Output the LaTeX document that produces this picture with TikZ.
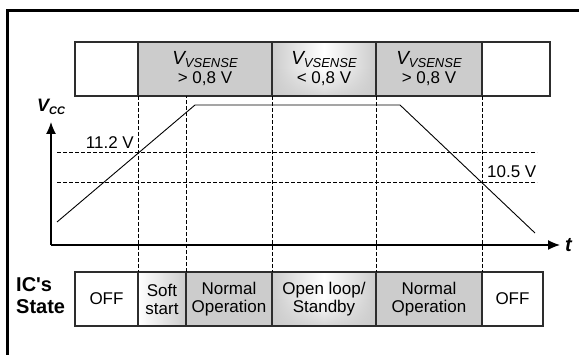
\documentclass[tikz,border=0pt]{standalone}
\usepackage{fontspec}
\setmainfont{Liberation Sans}
\usetikzlibrary{arrows.meta, positioning, fadings, backgrounds}
\definecolor{cellgray}{RGB}{204, 204, 204}
\definecolor{edgegray}{RGB}{45, 45, 45}
\newcommand{\vsense}{{\fontsize{19}{19}\selectfont\itshape V}\raisebox{-2.5pt}{\fontsize{13}{13}\selectfont\itshape VSENSE}}

\begin{document}
\begin{tikzpicture}[x=1pt, y=-1pt, font=\fontsize{17}{18}\selectfont,
    cell/.style={draw=edgegray, line width=1.2pt, minimum height=54pt, inner sep=0pt, outer sep=0pt, anchor=north west, align=center},
    guide/.style={dash pattern=on 4pt off 2pt, line width=1pt},
    axis/.style={line width=1.3pt, -{Latex[length=12pt, width=10pt]}}
  ]
    \useasboundingbox (0,0) rectangle (579,355);
    \clip (0,0) rectangle (579,355);

    % Rahmen
    \draw[line width=2.4pt] (7.3,400) -- (7.3,10.7) -- (650,10.7);

    % V_VSENSE Zeile
    \node[cell, minimum width=63pt] (vs1) at (75,42) {};
    \node[cell, minimum width=134pt, fill=cellgray, right=0pt of vs1] (vs2) {\vsense\\[1pt]> 0,8 V};
    \node[cell, minimum width=104pt, right=0pt of vs2] (vs3) {\vsense\\[1pt]< 0,8 V};
    \node[cell, minimum width=106pt, fill=cellgray, right=0pt of vs3] (vs4) {\vsense\\[1pt]> 0,8 V};
    \node[cell, minimum width=68pt, right=0pt of vs4] (vs5) {};

    % Zustaende
    \node[cell, minimum width=63pt] (st1) at (75,272) {OFF};
    \node[cell, minimum width=48pt, right=0pt of st1] (st2) {Soft\\start};
    \node[cell, minimum width=86pt, fill=cellgray, right=0pt of st2] (st3) {Normal\\Operation};
    \node[cell, minimum width=104pt, right=0pt of st3] (st4) {Open loop/\\Standby};
    \node[cell, minimum width=106pt, fill=cellgray, right=0pt of st4] (st5) {Normal\\Operation};
    \node[cell, minimum width=61pt, right=0pt of st5] (st6) {OFF};

    \node[anchor=west, inner sep=0pt, align=left, font=\fontsize{20}{22}\selectfont\bfseries] (state) at (16,296) {IC\textquotesingle s\\State};

    % Verlaeufe
    \begin{scope}[on background layer]
        \shade[left color=cellgray, right color=cellgray, middle color=white] (vs3.north west) rectangle (vs3.south east);
        \fill[cellgray, path fading=north, fill opacity=0.8] (vs3.west) rectangle (vs3.south east);
        \shade[left color=cellgray, right color=cellgray, middle color=white] (st4.north west) rectangle (st4.south east);
        \fill[cellgray, path fading=north, fill opacity=0.8] (st4.west) rectangle (st4.south east);
        \shade[left color=white, right color=cellgray] (st2.north west) rectangle (st2.south east);
    \end{scope}

    % Hilfslinien
    \draw[guide] (vs2.south west) -- (st2.north west);
    \draw[guide] (st3.north west) -- (st3.north west |- vs2.south);
    \draw[guide] (vs3.south west) -- (st4.north west);
    \draw[guide] (vs4.south west) -- (st5.north west);
    \draw[guide] (vs5.south west) -- (st6.north west);

    % Achsen
    \coordinate (origin) at (51,245);
    \coordinate (vtop) at (51,122);
    \coordinate (tend) at (560,245);
    \draw[axis] (origin) -- (vtop);
    \draw[axis] (origin) -- (tend);
    \node[anchor=base west, inner sep=0pt, font=\fontsize{18}{18}\selectfont\bfseries\itshape] (vcc) at (37,112) {V\raisebox{-3pt}{\fontsize{11}{11}\selectfont CC}};
    \node[anchor=base west, inner sep=0pt, font=\fontsize{20}{20}\selectfont\bfseries\itshape] (t) at (565,252) {t};

    % Schwellen
    \coordinate (on1) at (57,153);
    \coordinate (on2) at (537,153);
    \coordinate (off1) at (57,183);
    \coordinate (off2) at (537,183);
    \draw[guide] (on1) -- (on2);
    \draw[guide] (off1) -- (off2);
    \node[anchor=base east, inner sep=0pt] (von) at (134,149) {11.2 V};
    \node[anchor=base west, inner sep=0pt] (voff) at (487,178) {10.5 V};

    % Vcc Verlauf
    \draw[line width=0.9pt] (57,222) -- (195,105) -- (400,105) -- (535,233);

\end{tikzpicture}
\end{document}
